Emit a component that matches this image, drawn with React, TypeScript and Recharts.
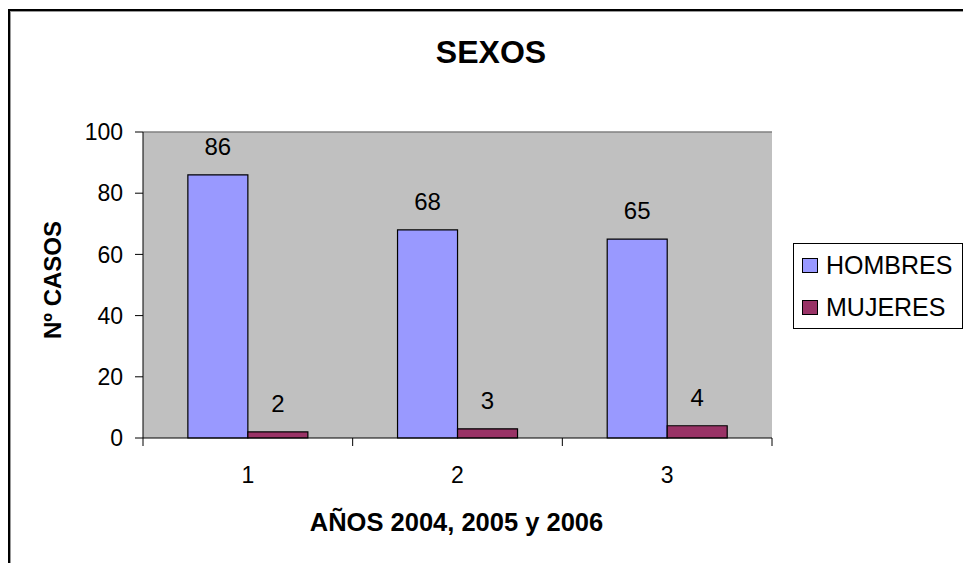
import React from 'react';
import {
  BarChart,
  Bar,
  XAxis,
  YAxis,
  CartesianGrid,
  ReferenceLine,
  Legend,
  LabelList,
} from 'recharts';

const years = ['1', '2', '3'];
const hombres = [86, 68, 65];
const mujeres = [2, 3, 4];
const yTicks = [0, 20, 40, 60, 80, 100];

const data = years.map((year, i) => ({ year, HOMBRES: hombres[i], MUJERES: mujeres[i] }));

const FONT = 'Arial, "Liberation Sans", sans-serif';
const W = 963;
const H = 563;
const MARGIN = { top: 132, right: 191, bottom: 0, left: 43 };
const Y_W = 100;
const X_H = 125;
const PLOT_W = W - MARGIN.left - MARGIN.right - Y_W;
const TICK = 8;

const CategoryTick = (props: any) => {
  const { x, y, payload, index } = props;
  const half = payload?.offset || PLOT_W / (years.length * 2);
  const top = y - TICK;
  return (
    <g>
      {index === 0 && <line x1={x - half} x2={x - half} y1={top} y2={y} stroke="#000" />}
      <line x1={x + half} x2={x + half} y1={top} y2={y} stroke="#000" />
      <text x={x} y={y + 37} textAnchor="middle" fontSize={23} fontFamily={FONT} fill="#000">
        {payload.value}
      </text>
    </g>
  );
};

const LegendBox = (props: any) => {
  const items = props.payload || [];
  return (
    <div
      style={{
        width: 168,
        height: 84,
        border: '1px solid #000',
        background: '#fff',
        fontFamily: FONT,
        fontSize: 25,
        color: '#000',
      }}
    >
      {items.map((it: any) => (
        <div key={it.value} style={{ height: 42, display: 'flex', alignItems: 'center', paddingLeft: 8 }}>
          <span
            style={{
              width: 14,
              height: 13,
              background: it.color,
              border: '1.5px solid #000',
              marginRight: 8,
              display: 'inline-block',
            }}
          />
          <span style={{ lineHeight: 1 }}>{it.value}</span>
        </div>
      ))}
    </div>
  );
};

export default function App() {
  return (
    <div style={{ position: 'fixed', left: 0, top: 0, width: W, height: H, overflow: 'hidden', background: '#fff' }}>
      <div
        style={{
          position: 'absolute',
          left: 8,
          top: 9,
          width: 1000,
          height: 600,
          borderTop: '2px solid #000',
          borderLeft: '2px solid #000',
          boxShadow: 'inset 1px 1px 0 #999',
        }}
      />
      <div
        style={{
          position: 'absolute',
          left: 391,
          width: 200,
          top: 33,
          textAlign: 'center',
          fontFamily: FONT,
          fontWeight: 'bold',
          fontSize: 32,
          lineHeight: '38px',
          color: '#000',
        }}
      >
        SEXOS
      </div>
      <div style={{ position: 'absolute', left: 0, top: 0 }}>
        <BarChart width={W} height={H} data={data} margin={MARGIN} barCategoryGap="21.4%" barGap={0}>
          <CartesianGrid fill="#C0C0C0" horizontal={false} vertical={false} />
          <ReferenceLine y={100} stroke="#808080" strokeWidth={1.5} />
          <XAxis
            dataKey="year"
            height={X_H}
            axisLine={{ stroke: '#000' }}
            tickLine={false}
            tickSize={TICK}
            tickMargin={0}
            tick={<CategoryTick />}
            label={(p: any) => {
              const vb = p.viewBox;
              return (
                <text
                  x={vb.x + vb.width / 2 - 1}
                  y={vb.y + 93}
                  textAnchor="middle"
                  fontFamily={FONT}
                  fontWeight="bold"
                  fontSize={25.5}
                  fill="#000"
                >
                  AÑOS 2004, 2005 y 2006
                </text>
              );
            }}
          />
          <YAxis
            width={Y_W}
            domain={[0, 100]}
            ticks={yTicks}
            interval={0}
            axisLine={{ stroke: '#000' }}
            tickLine={{ stroke: '#000' }}
            tickSize={TICK}
            tickMargin={12}
            tick={{ fontSize: 23, fontFamily: FONT, fill: '#000' }}
            label={(p: any) => {
              const vb = p.viewBox;
              const cx = vb.x + 9;
              const cy = vb.y + vb.height / 2 - 5;
              return (
                <text
                  x={cx}
                  y={cy}
                  transform={`rotate(-90 ${cx} ${cy})`}
                  textAnchor="middle"
                  dominantBaseline="central"
                  fontFamily={FONT}
                  fontWeight="bold"
                  fontSize={24}
                  fill="#000"
                >
                  Nº CASOS
                </text>
              );
            }}
          />
          <YAxis
            yAxisId="edge"
            orientation="right"
            width={0}
            domain={[0, 100]}
            axisLine={{ stroke: '#808080', strokeWidth: 1.5 }}
            tick={false}
            tickLine={false}
          />
          <Legend
            layout="vertical"
            align="center"
            verticalAlign="middle"
            content={<LegendBox />}
            wrapperStyle={{ left: 793, top: 243, width: 170, height: 86 }}
          />
          <Bar dataKey="HOMBRES" fill="#9999FF" stroke="#000" strokeWidth={1.2} isAnimationActive={false}>
            <LabelList dataKey="HOMBRES" position="top" offset={20} fontSize={24} fontFamily={FONT} fill="#000" />
          </Bar>
          <Bar dataKey="MUJERES" fill="#993366" stroke="#000" strokeWidth={1.2} isAnimationActive={false}>
            <LabelList dataKey="MUJERES" position="top" offset={20} fontSize={24} fontFamily={FONT} fill="#000" />
          </Bar>
        </BarChart>
      </div>
    </div>
  );
}
